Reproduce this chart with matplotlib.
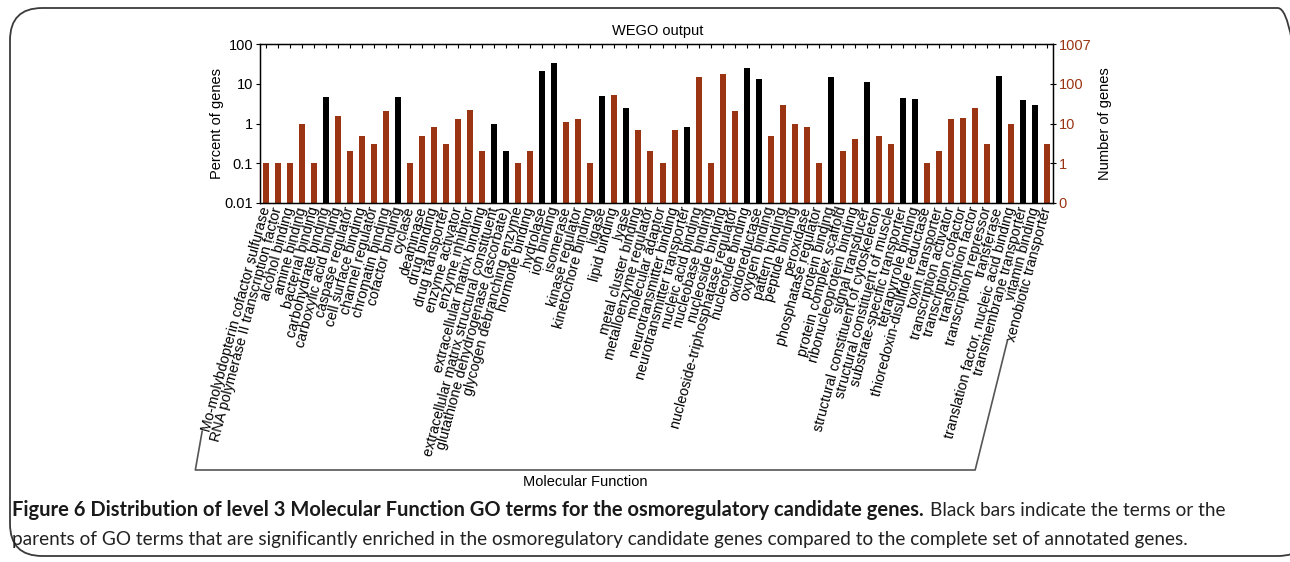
import numpy as np
import matplotlib.pyplot as plt
from matplotlib.patches import FancyBboxPatch
from matplotlib.lines import Line2D

# level 3 molecular function terms
terms = [
    "Mo-molybdopterin cofactor sulfurase", "RNA polymerase II transcription factor",
    "alcohol binding", "amine binding", "bacterial binding", "carbohydrate binding",
    "carboxylic acid binding", "caspase regulator", "cell surface binding",
    "channel regulator", "chromatin binding", "cofactor binding", "cyclase",
    "deaminase", "drug binding", "drug transporter", "enzyme activator",
    "enzyme inhibitor", "extracellular matrix binding",
    "extracellular matrix structural constituent",
    "glutathione dehydrogenase (ascorbate)", "glycogen debranching enzyme",
    "hormone binding", "hydrolase", "ion binding", "isomerase", "kinase regulator",
    "kinetochore binding", "ligase", "lipid binding", "lyase", "metal cluster binding",
    "metalloenzyme regulator", "molecular adaptor", "neurotransmitter binding",
    "neurotransmitter transporter", "nucleic acid binding", "nucleobase binding",
    "nucleoside binding", "nucleoside-triphosphatase regulator", "nucleotide binding",
    "oxidoreductase", "oxygen binding", "pattern binding", "peptide binding",
    "peroxidase", "phosphatase regulator", "protein binding", "protein complex scaffold",
    "ribonucleoprotein binding", "signal transducer",
    "structural constituent of cytoskeleton", "structural constituent of muscle",
    "substrate-specific transporter", "tetrapyrrole binding",
    "thioredoxin-disulfide reductase", "toxin transporter", "transcription activator",
    "transcription cofactor", "transcription factor", "transcription repressor",
    "transferase", "translation factor, nucleic acid binding",
    "transmembrane transporter", "vitamin binding", "xenobiotic transporter",
]

# number of candidate genes per term (out of 1007 annotated)
n_genes = [
    1, 1, 1, 10, 1, 48, 16, 2, 5, 3, 21, 48, 1, 5, 8, 3, 13, 22, 2, 10, 2, 1, 2,
    212, 330, 11, 13, 1, 50, 53, 25, 7, 2, 1, 7, 8, 152, 1, 177, 21, 252, 130,
    5, 29, 10, 8, 1, 146, 2, 4, 110, 5, 3, 45, 41, 1, 2, 13, 14, 25, 3, 161,
    10, 39, 29, 3,
]
total_genes = 1007

# terms (or parents) significantly enriched -> black bars
enriched = [5, 11, 19, 20, 23, 24, 28, 30, 35, 40, 41, 47, 50, 53, 54, 61, 63, 64]

left_ticks = [0.01, 0.1, 1, 10, 100]
left_labels = ["0.01", "0.1", "1", "10", "100"]
right_labels = ["0", "1", "10", "100", "1007"]

brown = "#9a3412"
W, H = 1290, 562

plt.rcParams["font.family"] = ["Liberation Sans", "DejaVu Sans"]

pct = np.array(n_genes) / total_genes * 100
x = np.arange(len(terms))
colors = ["black" if i in enriched else brown for i in x]

fig = plt.figure(figsize=(W / 100, H / 100), dpi=100)

# rounded frame around the whole figure
frame = FancyBboxPatch((10 / W, 1 - 556 / H), 1300 / W, 548 / H,
                       boxstyle="round,pad=0,rounding_size=0.025",
                       transform=fig.transFigure, fill=False,
                       edgecolor="#3a3a3a", linewidth=1.3, mutation_aspect=W / H)
fig.patches.append(frame)

ax = fig.add_axes([260 / W, 1 - 203 / H, 793 / W, 159 / H])
ax.set_yscale("log")
ax.bar(x, pct, width=0.5, color=colors, zorder=2)
ax.set_xlim(-0.5, len(terms) - 0.5)
ax.set_ylim(0.01, 100)
ax.set_yticks(left_ticks)
ax.set_yticklabels(left_labels)
ax.minorticks_off()
ax.tick_params(axis="y", direction="out", length=3, labelsize=10.5, pad=2)
ax.set_xticks(x)
ax.set_xticklabels(terms, rotation=75, ha="right", va="center",
                   rotation_mode="anchor", fontsize=10.3)
ax.tick_params(axis="x", direction="in", top=True, length=3, pad=3)
ax.set_ylabel("Percent of genes", fontsize=10.5, labelpad=0)
for s in ax.spines.values():
    s.set_linewidth(1.0)

ax2 = ax.twinx()
ax2.set_yscale("log")
ax2.set_ylim(0.01, 100)
ax2.set_yticks(left_ticks)
ax2.set_yticklabels(right_labels, color=brown)
ax2.minorticks_off()
ax2.tick_params(axis="y", direction="inout", length=4, labelsize=10.5, pad=2)
ax2.set_ylabel("Number of genes", fontsize=10.5, labelpad=5)

fig.text(658 / W, 1 - 31 / H, "WEGO output", ha="center", va="center", fontsize=10.5)

# bracket under the term labels
fig.canvas.draw()
ren = fig.canvas.get_renderer()
labels = ax.get_xticklabels()
bb0 = labels[0].get_window_extent(ren)
bb1 = labels[-1].get_window_extent(ren)
y_b = H - 470
x0_top, y0_top = bb0.x0 + 3, bb0.y0 + 2
x1_top, y1_top = bb1.x0 + 3, bb1.y0 + 2
x0_b = x0_top - (y0_top - y_b) / np.tan(np.radians(80))
x1_b = x1_top - (y1_top - y_b) / np.tan(np.radians(76))
bx = np.array([x0_top, x0_b, x1_b, x1_top]) / W
by = np.array([y0_top, y_b, y_b, y1_top]) / H
fig.add_artist(Line2D(bx, by, transform=fig.transFigure, color="#555555", linewidth=1.2))
fig.text((x0_b + x1_b) / 2 / W, 1 - 482 / H, "Molecular Function",
         ha="center", va="center", fontsize=10.5)

# caption
cap_font = ["Lato", "DejaVu Sans"]
bold = fig.text(12 / W, 1 - 510 / H,
                "Figure 6 Distribution of level 3 Molecular Function GO terms for the "
                "osmoregulatory candidate genes.",
                ha="left", va="center", fontsize=14.5, fontweight="bold", family=cap_font,
                color="#1a1a1a")
fig.canvas.draw()
bbc = bold.get_window_extent(ren)
fig.text(bbc.x1 / W + 6 / W, 1 - 510 / H, "Black bars indicate the terms or the",
         ha="left", va="center", fontsize=13.7, family=cap_font, color="#222222")
fig.text(12 / W, 1 - 539 / H,
         "parents of GO terms that are significantly enriched in the osmoregulatory "
         "candidate genes compared to the complete set of annotated genes.",
         ha="left", va="center", fontsize=13.7, family=cap_font, color="#222222")

fig.savefig("out.png", dpi=100)
